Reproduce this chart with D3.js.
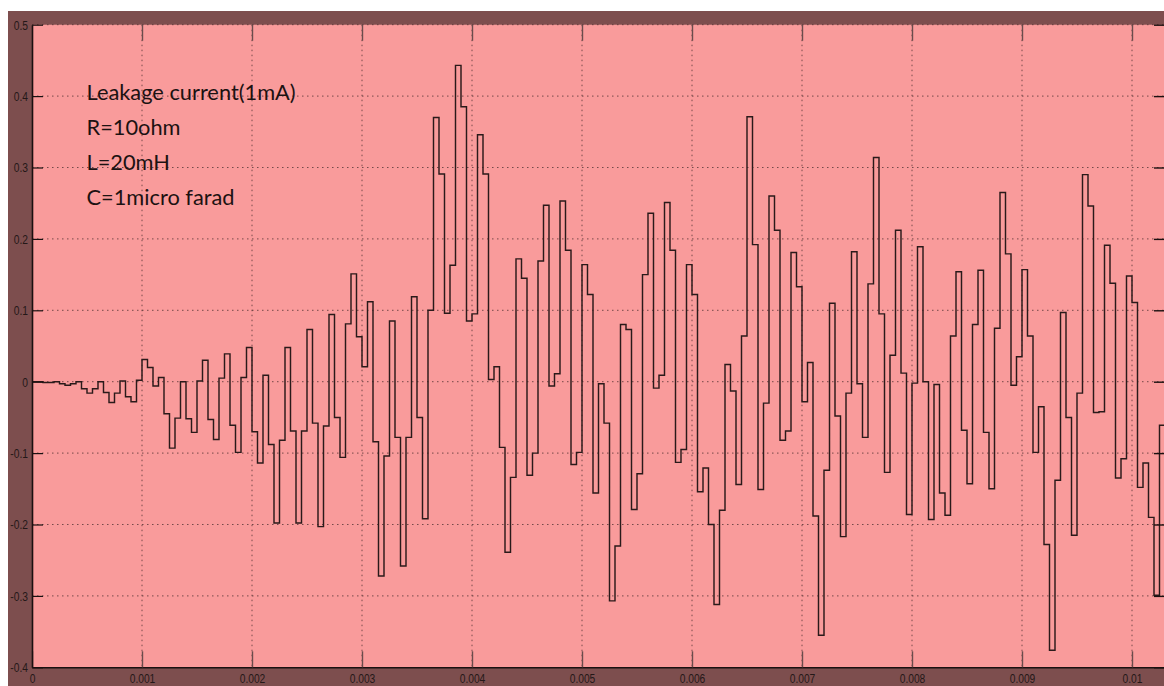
<!DOCTYPE html>
<html>
<head>
<meta charset="utf-8">
<script src="https://cdn.jsdelivr.net/npm/d3@7"></script>
<style>
  html, body { margin: 0; padding: 0; background: #ffffff; }
  svg { display: block; }
</style>
</head>
<body>
<svg id="chart" width="1164" height="686"></svg>
<script>
// Scope trace of the leakage current, held between fixed-step samples.
const sampleTime = 5e-5;      // s, fixed solver step
const timeEnd = 0.0103;       // s, right edge of the visible window

// Sampled current values (one per step, zero-order hold)
const leakageCurrent = [
  0.000, 0.000, -0.001, -0.001, 0.000, -0.003, -0.005, -0.003, 0.000, -0.010,
  -0.016, -0.010, 0.000, -0.015, -0.029, -0.016, 0.001, -0.021, -0.028, 0.002,
  0.031, 0.020, -0.006, 0.006, -0.045, -0.093, -0.051, 0.000, -0.052, -0.071,
  0.001, 0.030, -0.053, -0.081, 0.005, 0.039, -0.061, -0.099, 0.006, 0.048,
  -0.070, -0.114, 0.009, -0.088, -0.198, -0.082, 0.048, -0.069, -0.198, -0.069,
  0.073, -0.058, -0.203, -0.062, 0.094, -0.050, -0.106, 0.081, 0.151, 0.063,
  0.021, 0.112, -0.084, -0.272, -0.104, 0.085, -0.078, -0.258, -0.078, 0.119,
  -0.050, -0.192, 0.100, 0.370, 0.291, 0.096, 0.163, 0.443, 0.385, 0.085,
  0.095, 0.346, 0.291, 0.003, 0.021, -0.092, -0.239, -0.134, 0.172, 0.145,
  -0.131, -0.100, 0.169, 0.247, -0.006, 0.011, 0.253, 0.184, -0.116, -0.099,
  0.164, 0.122, -0.156, -0.003, -0.058, -0.307, -0.230, 0.080, 0.073, -0.179,
  -0.129, 0.150, 0.236, -0.009, 0.009, 0.251, 0.184, -0.113, -0.095, 0.164,
  0.122, -0.154, -0.121, -0.200, -0.312, -0.180, 0.024, -0.013, -0.144, 0.064,
  0.371, 0.192, -0.151, -0.030, 0.260, 0.212, -0.082, -0.069, 0.181, 0.133,
  -0.028, 0.027, -0.188, -0.355, -0.124, 0.110, -0.048, -0.217, -0.016, 0.182,
  -0.003, -0.078, 0.137, 0.314, 0.095, -0.127, 0.037, 0.212, 0.012, -0.186,
  -0.002, 0.189, 0.000, -0.193, -0.004, -0.156, -0.187, 0.064, 0.154, -0.068,
  -0.143, 0.080, 0.156, -0.071, -0.150, 0.075, 0.265, 0.179, -0.005, 0.035,
  0.157, 0.064, -0.099, -0.035, -0.228, -0.376, -0.138, 0.097, -0.050, -0.215,
  -0.016, 0.290, 0.246, -0.043, -0.042, 0.191, 0.138, -0.135, -0.108, 0.148,
  0.111, -0.148, -0.114, -0.190, -0.299, -0.061
];

const xTickValues = [0, 0.001, 0.002, 0.003, 0.004, 0.005, 0.006, 0.007, 0.008, 0.009, 0.01];
const xTickLabels = ["0", "0.001", "0.002", "0.003", "0.004", "0.005", "0.006", "0.007", "0.008", "0.009", "0.01"];
const yTickValues = [-0.4, -0.3, -0.2, -0.1, 0, 0.1, 0.2, 0.3, 0.4, 0.5];
const yTickLabels = ["-0.4", "-0.3", "-0.2", "-0.1", "0", "0.1", "0.2", "0.3", "0.4", "0.5"];

const annotationLines = ["Leakage current(1mA)", "R=10ohm", "L=20mH", "C=1micro farad"];

// ---- layout ----
const W = 1164, H = 686;
const frame = { x: 8, y: 11 };
const plot = { left: 32, top: 24.7, right: 1165, bottom: 667.3 };
const colors = {
  frame: "#7d4e4e",
  plotBg: "#f99b9b",
  grid: "#4a2e2e",
  trace: "#2a1a1a",
  label: "#241818",
  text: "#1c1212"
};

const svg = d3.select("#chart");

const x = d3.scaleLinear().domain([0, timeEnd]).range([plot.left, plot.right]);
const y = d3.scaleLinear().domain([-0.4, 0.5]).range([plot.bottom, plot.top]);

// Figure frame and axes background
svg.append("rect")
  .attr("x", frame.x).attr("y", frame.y)
  .attr("width", W - frame.x).attr("height", H - frame.y)
  .attr("fill", colors.frame);

svg.append("rect")
  .attr("x", plot.left).attr("y", plot.top)
  .attr("width", plot.right - plot.left).attr("height", plot.bottom - plot.top)
  .attr("fill", colors.plotBg);

svg.append("clipPath").attr("id", "plot-clip")
  .append("rect")
  .attr("x", plot.left).attr("y", plot.top - 1)
  .attr("width", plot.right - plot.left).attr("height", plot.bottom - plot.top + 2);

// Dotted grid
const grid = svg.append("g").attr("clip-path", "url(#plot-clip)");
grid.selectAll("line.vgrid")
  .data(xTickValues.filter(d => d > 0))
  .join("line")
  .attr("class", "vgrid")
  .attr("x1", d => x(d)).attr("x2", d => x(d))
  .attr("y1", plot.top).attr("y2", plot.bottom)
  .attr("stroke", colors.grid).attr("stroke-width", 1)
  .attr("stroke-dasharray", "1.5,3.5").attr("opacity", 0.75);
grid.selectAll("line.hgrid")
  .data(yTickValues.filter(d => d > -0.4))
  .join("line")
  .attr("class", "hgrid")
  .attr("x1", plot.left).attr("x2", plot.right)
  .attr("y1", d => y(d)).attr("y2", d => y(d))
  .attr("stroke", colors.grid).attr("stroke-width", 1)
  .attr("stroke-dasharray", "1.5,3.5").attr("opacity", 0.75);

// Zero-order-hold trace
const points = leakageCurrent.map((v, k) => [k * sampleTime, v]);
points.push([timeEnd, leakageCurrent[leakageCurrent.length - 1]]);

const stepLine = d3.line()
  .x(d => x(d[0]))
  .y(d => y(d[1]))
  .curve(d3.curveStepAfter);

svg.append("path")
  .datum(points)
  .attr("clip-path", "url(#plot-clip)")
  .attr("d", stepLine)
  .attr("fill", "none")
  .attr("stroke", colors.trace)
  .attr("stroke-width", 1.45)
  .attr("stroke-linejoin", "miter");

// Axes
const labelScaleX = 0.76;
const fontStack = "'Liberation Sans Narrow', 'Liberation Sans', Arial, sans-serif";

const xAxis = svg.append("g")
  .attr("transform", `translate(0,${plot.bottom})`)
  .call(d3.axisBottom(x)
    .tickValues(xTickValues)
    .tickFormat((d, i) => xTickLabels[i])
    .tickSizeInner(-16).tickSizeOuter(0).tickPadding(6));
xAxis.select(".domain").attr("stroke", "#1a1010").attr("stroke-width", 1.6);
xAxis.selectAll(".tick line").attr("stroke", "#6a4c4c").attr("stroke-width", 1.4);
xAxis.selectAll(".tick text")
  .attr("fill", colors.label)
  .style("font-family", fontStack).style("font-size", "13.5px")
  .attr("transform", `scale(${labelScaleX},1)`);

const yAxis = svg.append("g")
  .attr("transform", `translate(${plot.left},0)`)
  .call(d3.axisLeft(y)
    .tickValues(yTickValues)
    .tickFormat((d, i) => yTickLabels[i])
    .tickSizeInner(-11).tickSizeOuter(0).tickPadding(4));
yAxis.select(".domain").attr("stroke", "#1a1010").attr("stroke-width", 1.6);
yAxis.selectAll(".tick line").attr("stroke", "#1a1010").attr("stroke-width", 1.2);
yAxis.selectAll(".tick text")
  .attr("fill", colors.label)
  .attr("x", -4 / labelScaleX)
  .style("font-family", fontStack).style("font-size", "13.5px")
  .attr("transform", `scale(${labelScaleX},1)`);

// Tick marks on the top and right edges (no labels)
const topAxis = svg.append("g")
  .attr("transform", `translate(0,${plot.top})`)
  .call(d3.axisTop(x).tickValues(xTickValues.filter(d => d > 0)).tickFormat("")
    .tickSizeInner(-16).tickSizeOuter(0));
topAxis.select(".domain").remove();
topAxis.selectAll(".tick line").attr("stroke", "#6a4c4c").attr("stroke-width", 1.4);

const rightAxis = svg.append("g")
  .attr("transform", `translate(${plot.right},0)`)
  .call(d3.axisRight(y).tickValues(yTickValues).tickFormat("")
    .tickSizeInner(-11).tickSizeOuter(0));
rightAxis.select(".domain").remove();
rightAxis.selectAll(".tick line").attr("stroke", "#1a1010").attr("stroke-width", 1.4);

// Circuit annotation
svg.append("g")
  .selectAll("text")
  .data(annotationLines)
  .join("text")
  .attr("x", 86.5)
  .attr("y", (d, i) => 99.5 + i * 35)
  .attr("fill", colors.text)
  .style("font-family", "Lato, 'Open Sans', sans-serif")
  .style("font-size", "21.8px")
  .text(d => d);
</script>
</body>
</html>
